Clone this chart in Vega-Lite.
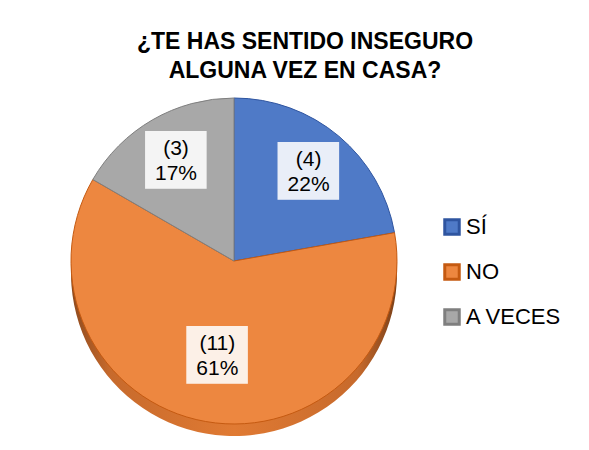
{
  "$schema": "https://vega.github.io/schema/vega-lite/v6.json",
  "autosize": {"type": "none"},
  "width": 468,
  "height": 322,
  "padding": {"left": 0, "top": 100, "right": 121, "bottom": 28},
  "background": "white",
  "config": {"view": {"stroke": null}},
  "title": {
    "text": ["¿TE HAS SENTIDO INSEGURO", "ALGUNA VEZ EN CASA?"],
    "font": "Liberation Sans",
    "fontSize": 23,
    "fontWeight": "bold",
    "color": "#000000",
    "anchor": "middle",
    "frame": "group",
    "dx": 71,
    "offset": 13,
    "lineHeight": 29
  },
  "data": {
    "values": [
      {"respuesta": "SÍ", "cantidad": 4, "orden": 1, "etiqueta": "(4)\n22%"},
      {"respuesta": "NO", "cantidad": 11, "orden": 2, "etiqueta": "(11)\n61%"},
      {"respuesta": "A VECES", "cantidad": 3, "orden": 3, "etiqueta": "(3)\n17%"}
    ]
  },
  "layer": [
    {
      "mark": {
        "type": "arc",
        "outerRadius": 163,
        "yOffset": 12,
        "color": {
          "gradient": "linear",
          "x1": 0, "x2": 1, "y1": 0, "y2": 0,
          "stops": [
            {"offset": 0, "color": "#8E4A1E"},
            {"offset": 0.12, "color": "#C76A2C"},
            {"offset": 0.5, "color": "#E07A33"},
            {"offset": 0.88, "color": "#C76A2C"},
            {"offset": 1, "color": "#7A3F18"}
          ]
        }
      },
      "encoding": {
        "theta": {"field": "cantidad", "type": "quantitative", "stack": true},
        "order": {"field": "orden", "type": "quantitative"}
      }
    },
    {
      "mark": {"type": "arc", "outerRadius": 163, "strokeWidth": 1},
      "encoding": {
        "theta": {"field": "cantidad", "type": "quantitative", "stack": true},
        "order": {"field": "orden", "type": "quantitative"},
        "fill": {
          "field": "respuesta",
          "type": "nominal",
          "scale": {"domain": ["SÍ", "NO", "A VECES"], "range": ["#4F7AC7", "#ED8740", "#A8A8A8"]},
          "legend": {
            "orient": "none",
            "legendX": 441,
            "legendY": 116,
            "title": null,
            "symbolType": "square",
            "symbolSize": 210,
            "symbolStrokeWidth": 3,
            "symbolOpacity": 1,
            "labelFont": "Liberation Sans",
            "labelFontSize": 22,
            "labelColor": "#000000",
            "labelOffset": 3,
            "rowPadding": 17
          }
        },
        "stroke": {
          "field": "respuesta",
          "type": "nominal",
          "scale": {"domain": ["SÍ", "NO", "A VECES"], "range": ["#2F55A0", "#C55A11", "#7F7F7F"]}
        }
      }
    },
    {
      "mark": {"type": "text", "radius": 116, "font": "DejaVu Sans", "fontSize": 78, "color": "#FFFFFF", "opacity": 0.88, "dy": -15},
      "encoding": {
        "theta": {"field": "cantidad", "type": "quantitative", "stack": true},
        "order": {"field": "orden", "type": "quantitative"},
        "text": {"condition": {"test": "datum.respuesta !== 'NO'", "value": "▅"}, "value": ""}
      }
    },
    {
      "mark": {"type": "text", "radius": 96, "font": "DejaVu Sans", "fontSize": 78, "color": "#FFFFFF", "opacity": 0.88, "dy": -15},
      "encoding": {
        "theta": {"field": "cantidad", "type": "quantitative", "stack": true},
        "order": {"field": "orden", "type": "quantitative"},
        "text": {"condition": {"test": "datum.respuesta === 'NO'", "value": "▅"}, "value": ""}
      }
    },
    {
      "mark": {"type": "text", "radius": 116, "font": "Liberation Sans", "fontSize": 21, "color": "#000000", "lineBreak": "\n", "lineHeight": 25, "dy": -12},
      "encoding": {
        "theta": {"field": "cantidad", "type": "quantitative", "stack": true},
        "order": {"field": "orden", "type": "quantitative"},
        "text": {"condition": {"test": "datum.respuesta !== 'NO'", "field": "etiqueta"}, "value": ""}
      }
    },
    {
      "mark": {"type": "text", "radius": 96, "font": "Liberation Sans", "fontSize": 21, "color": "#000000", "lineBreak": "\n", "lineHeight": 25, "dy": -12},
      "encoding": {
        "theta": {"field": "cantidad", "type": "quantitative", "stack": true},
        "order": {"field": "orden", "type": "quantitative"},
        "text": {"condition": {"test": "datum.respuesta === 'NO'", "field": "etiqueta"}, "value": ""}
      }
    }
  ]
}
